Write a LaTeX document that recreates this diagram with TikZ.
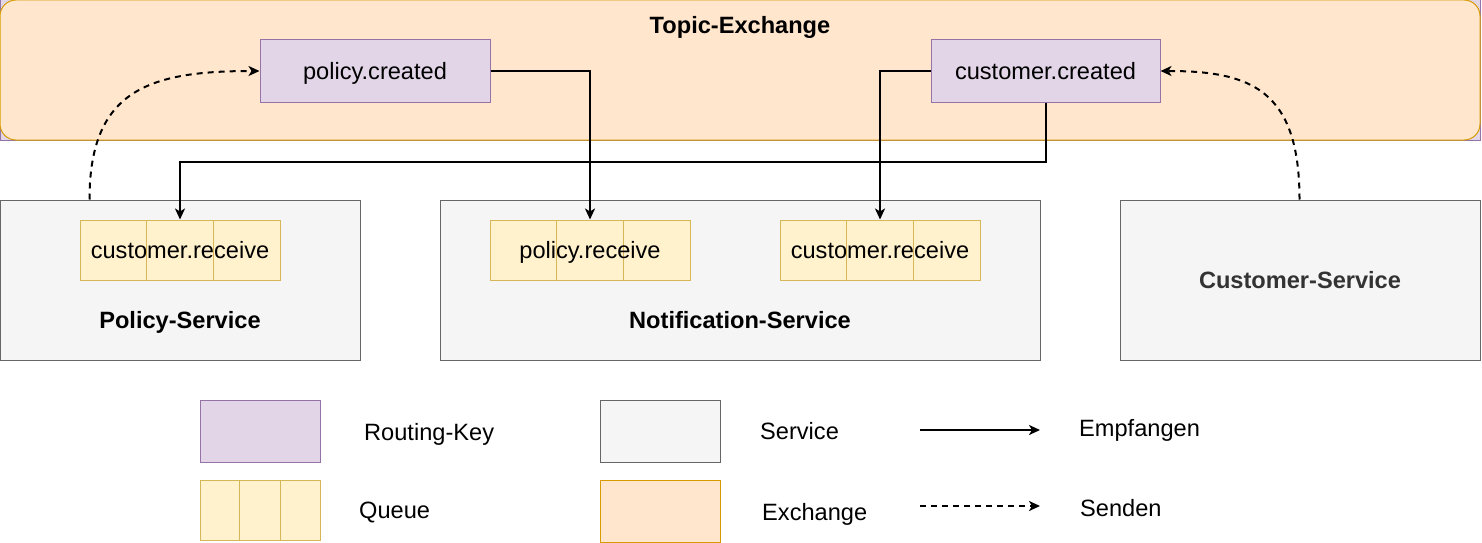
\documentclass[tikz,border=0pt]{standalone}
\usepackage{fontspec}
\setmainfont{Liberation Sans}
\usetikzlibrary{arrows.meta,calc}
\definecolor{rkf}{HTML}{E1D5E7}
\definecolor{rkd}{HTML}{9673A6}
\definecolor{exf}{HTML}{FFE6CC}
\definecolor{exd}{HTML}{D79B00}
\definecolor{svf}{HTML}{F5F5F5}
\definecolor{svd}{HTML}{666666}
\definecolor{qf}{HTML}{FFF2CC}
\definecolor{qd}{HTML}{D6B656}
\definecolor{dark}{HTML}{333333}
\newcommand\diafs{\fontsize{23.6}{28}\selectfont}
\tikzset{
  box/.style={line width=1pt, inner sep=0pt, text height=16.9pt, text depth=0pt},
  txt/.style={inner sep=0pt, text height=16.9pt, text depth=0pt},
  rkbox/.style={box, draw=rkd, fill=rkf, minimum width=#1, minimum height=62pt},
  rkbox/.default=230pt,
  svbox/.style={box, draw=svd, fill=svf, minimum width=#1, minimum height=160pt},
  svbox/.default=360pt,
  exbox/.style={box, draw=exd, fill=exf},
  queue/.style={box, draw=qd, fill=qf, minimum width=#1, minimum height=60pt,
    path picture={
      \foreach \f in {0.3333,0.6667}{
        \draw[qd, line width=1pt]
          ($(path picture bounding box.north west)!\f!(path picture bounding box.north east)$) --
          ($(path picture bounding box.south west)!\f!(path picture bounding box.south east)$);
      }}},
  queue/.default=200pt,
  conn/.style={line width=2pt, -{Stealth[length=11pt,width=10pt,inset=3pt]}},
  send/.style={conn, dash pattern=on 6pt off 5pt},
}
\begin{document}
\begin{tikzpicture}[x=1pt,y=-1pt,font=\diafs]
\useasboundingbox (0,0) rectangle (1482,543);

% exchange
\draw[line width=1pt, draw=rkd, fill=rkf] (0,0) rectangle (1480,140);
\node[exbox, rounded corners=16pt, minimum width=1480pt, minimum height=140pt] (ex) at (740,70) {};
\node[txt, font=\diafs\bfseries] (extitle) at (740,25) {Topic-Exchange};

\node[rkbox] (pc) at (375,71) {policy.created};
\node[rkbox=229pt] (cc) at (1045.5,71) {customer.created};

% services
\node[svbox] (ps) at (180,280) {};
\node[txt, font=\diafs\bfseries] (pslabel) at (180,320) {Policy-Service};
\node[svbox=600pt] (ns) at (740,280) {};
\node[txt, font=\diafs\bfseries] (nslabel) at (740,320) {Notification-Service};
\node[svbox, font=\diafs\bfseries, text=dark] (cs) at (1300,280) {Customer-Service};

% queues
\node[queue] (q1) at (180,250) {customer.receive};
\node[queue] (q2) at (590,250) {policy.receive};
\node[queue] (q3) at (880,250) {customer.receive};

% connectors
\draw[conn] (pc.east) -| (q2.north);
\draw[conn] (cc.west) -| (q3.north);
\draw[conn] (cc.south) -- ++(0,59) coordinate (cbend) -| (q1.north);
\draw[send] ([xshift=90pt]ps.north west) .. controls +(0,-110) and +(-110,0) .. (pc.west);
\draw[send] ([xshift=180pt]cs.north west) .. controls +(0,-110) and +(90,0) .. (cc.east);

% legend
\node[rkbox=120pt] (lrk) at (260,431) {};
\node[txt, anchor=west] (lrkt) at (364,432) {Routing-Key};
\node[queue=120pt] (lq) at (260,510) {};
\node[txt, anchor=west] (lqt) at (359,510) {Queue};
\node[box, draw=svd, fill=svf, minimum width=120pt, minimum height=62pt] (lsv) at (660,431) {};
\node[txt, anchor=west] (lsvt) at (760,431) {Service};
\node[exbox, minimum width=120pt, minimum height=62pt] (lex) at (660,511) {};
\node[txt, anchor=west] (lext) at (762,512) {Exchange};

\coordinate (e1) at (920,430);
\coordinate (e2) at (1040,430);
\draw[conn] (e1) -- (e2);
\node[txt, anchor=west] (le) at (1079,428) {Empfangen};
\coordinate (s1) at (920,506);
\coordinate (s2) at (1040,506);
\draw[send] (s1) -- (s2);
\node[txt, anchor=west] (ls) at (1080,508) {Senden};
\end{tikzpicture}
\end{document}
